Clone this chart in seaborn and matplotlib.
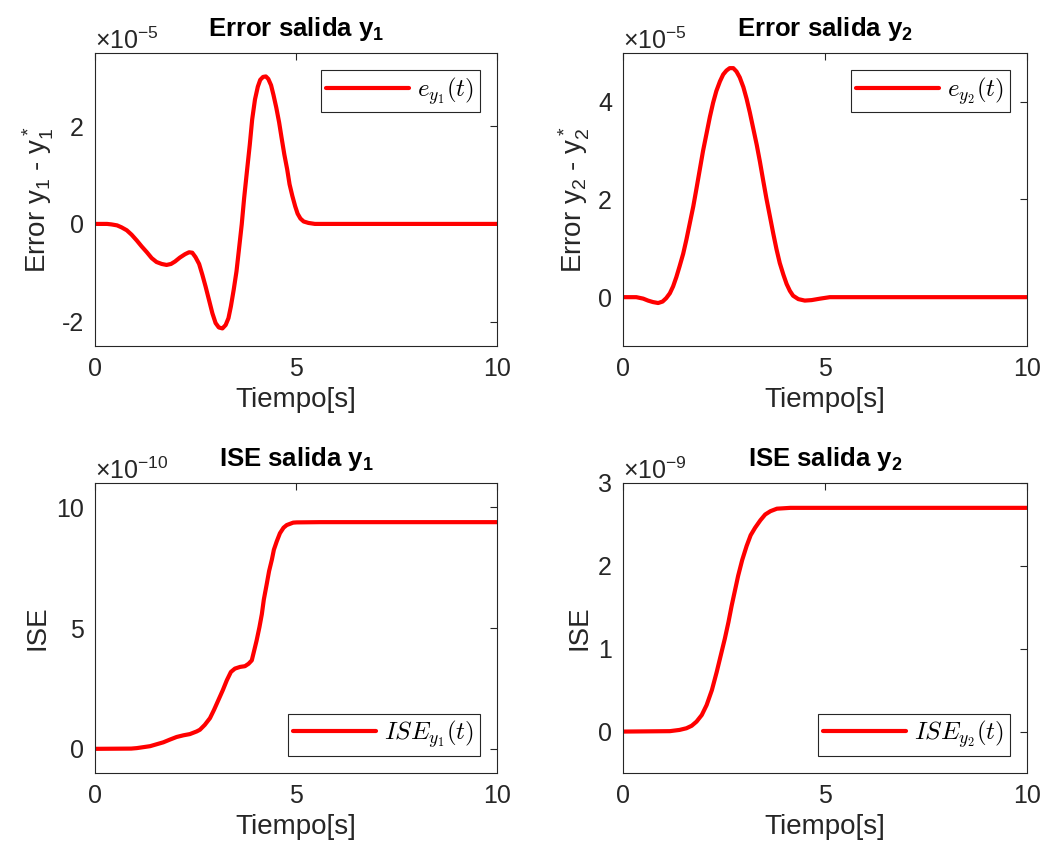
import numpy as np
import pandas as pd
import matplotlib
matplotlib.use("Agg")
import matplotlib.pyplot as plt
import seaborn as sns
from matplotlib.ticker import ScalarFormatter, FixedLocator
from matplotlib.font_manager import FontProperties

# ---- data -------------------------------------------------------------
# output error y1 (units of 1e-5)
t_e1 = [0, 0.30, 0.41, 0.55, 0.66, 0.79, 0.91, 1.04, 1.16, 1.29, 1.41, 1.53,
        1.66, 1.78, 1.89, 1.99, 2.11, 2.24, 2.34, 2.42, 2.50, 2.59, 2.67, 2.75,
        2.84, 2.92, 3.00, 3.08, 3.17, 3.25, 3.32, 3.38, 3.45, 3.52, 3.58, 3.65,
        3.71, 3.78, 3.85, 3.91, 3.98, 4.05, 4.11, 4.18, 4.25, 4.31, 4.38, 4.44,
        4.51, 4.58, 4.64, 4.71, 4.78, 4.84, 4.91, 4.98, 5.04, 5.11, 5.19, 5.31,
        5.47, 10]
e_y1 = [0, 0, -0.01, -0.03, -0.07, -0.13, -0.22, -0.34, -0.46, -0.58, -0.70,
        -0.78, -0.82, -0.84, -0.82, -0.77, -0.69, -0.62, -0.58, -0.59, -0.68,
        -0.82, -1.04, -1.28, -1.57, -1.83, -2.03, -2.12, -2.14, -2.07, -1.93,
        -1.69, -1.35, -0.97, -0.53, -0.01, 0.53, 1.08, 1.62, 2.14, 2.55, 2.81,
        2.95, 3.01, 3.02, 2.97, 2.84, 2.64, 2.38, 2.08, 1.77, 1.42, 1.12, 0.81,
        0.57, 0.36, 0.21, 0.11, 0.05, 0.02, 0, 0]

# output error y2 (units of 1e-5)
t_e2 = [0, 0.33, 0.50, 0.62, 0.74, 0.87, 0.98, 1.07, 1.16, 1.24, 1.32, 1.40,
        1.49, 1.57, 1.65, 1.74, 1.82, 1.90, 1.98, 2.07, 2.15, 2.23, 2.31, 2.40,
        2.48, 2.56, 2.64, 2.73, 2.81, 2.89, 2.98, 3.06, 3.14, 3.22, 3.31, 3.39,
        3.47, 3.55, 3.64, 3.72, 3.80, 3.88, 3.97, 4.05, 4.13, 4.21, 4.34, 4.50,
        4.67, 4.88, 5.12, 10]
e_y2 = [0, 0, -0.03, -0.07, -0.10, -0.12, -0.09, -0.02, 0.08, 0.22, 0.41,
        0.63, 0.89, 1.18, 1.50, 1.86, 2.23, 2.61, 2.99, 3.36, 3.69, 3.98, 4.22,
        4.42, 4.56, 4.64, 4.69, 4.69, 4.62, 4.50, 4.30, 4.06, 3.78, 3.47, 3.12,
        2.77, 2.39, 2.02, 1.64, 1.30, 0.98, 0.70, 0.46, 0.27, 0.13, 0.03, -0.04,
        -0.07, -0.06, -0.03, 0, 0]

# integral of squared error y1 (units of 1e-10)
t_ise1 = [0, 0.90, 1.04, 1.37, 1.70, 1.86, 2.03, 2.20, 2.36, 2.53, 2.61, 2.73,
          2.86, 2.96, 3.07, 3.18, 3.28, 3.38, 3.48, 3.61, 3.73, 3.82, 3.90, 3.95,
          4.02, 4.09, 4.15, 4.20, 4.27, 4.33, 4.40, 4.45, 4.52, 4.60, 4.69, 4.77,
          4.93, 5.02, 5.60, 10]
ise_y1 = [0, 0.01, 0.03, 0.11, 0.27, 0.38, 0.49, 0.56, 0.61, 0.72, 0.79, 0.99,
          1.27, 1.61, 2.02, 2.43, 2.84, 3.18, 3.32, 3.39, 3.42, 3.52, 3.66, 4.00,
          4.48, 5.03, 5.57, 6.18, 6.80, 7.35, 7.83, 8.24, 8.58, 8.92, 9.15, 9.26,
          9.36, 9.37, 9.38, 9.38]

# integral of squared error y2 (units of 1e-9)
t_ise2 = [0, 1.16, 1.40, 1.57, 1.70, 1.82, 1.95, 2.07, 2.20, 2.32, 2.42, 2.52,
          2.61, 2.69, 2.77, 2.85, 2.95, 3.06, 3.16, 3.27, 3.40, 3.52, 3.65, 3.81,
          4.14, 10]
ise_y2 = [0, 0.005, 0.02, 0.04, 0.07, 0.12, 0.20, 0.32, 0.50, 0.72, 0.92, 1.12,
          1.32, 1.52, 1.70, 1.88, 2.07, 2.24, 2.37, 2.46, 2.55, 2.62, 2.66, 2.69,
          2.70, 2.70]

x_ticks = [0, 5, 10]


class FixedSci(ScalarFormatter):
    """Fixed power-of-ten offset, plain ASCII tick labels."""

    def __init__(self, order):
        super().__init__(useMathText=True)
        self.set_powerlimits((order, order))

    def __call__(self, x, pos=None):
        s = super().__call__(x, pos)
        return (s.replace(r"$\mathdefault{", "").replace("}$", "")
                 .replace("\u2212", "-"))


# ---- style ------------------------------------------------------------
sns.set_style("white")
plt.rcParams.update({
    "font.family": ["Liberation Sans", "DejaVu Sans"],
    "mathtext.fontset": "custom",
    "mathtext.rm": "Liberation Sans",
    "mathtext.it": "Liberation Sans:italic",
    "mathtext.bf": "Liberation Sans:bold",
    "axes.unicode_minus": False,
    "axes.edgecolor": "0.15",
    "axes.linewidth": 0.8,
    "xtick.color": "0.15",
    "ytick.color": "0.15",
    "text.color": "black",
    "axes.labelcolor": "0.15",
})

TICK_FS = 18
LABEL_FS = 20
TITLE_FS = 18.5
LEG_FS = 18

fig = plt.figure(figsize=(10.42, 8.51), dpi=100)

W = 1042.0
H = 851.0
boxes = [
    (95, 53, 497, 346),
    (623, 53, 1027, 346),
    (95, 483, 497, 773),
    (623, 483, 1027, 773),
]

panels = [
    dict(t=t_e1, v=e_y1, order=-5, ylim=(-2.5, 3.5), yticks=[-2, 0, 2],
         title=r"Error salida $\mathbf{y_1}$",
         ylabel=r"Error $\mathregular{y_1}$ - $\mathregular{y_1^*}$",
         leg=r"$e_{y_1}(t)$", loc="upper right"),
    dict(t=t_e2, v=e_y2, order=-5, ylim=(-1, 5), yticks=[0, 2, 4],
         title=r"Error salida $\mathbf{y_2}$",
         ylabel=r"Error $\mathregular{y_2}$ - $\mathregular{y_2^*}$",
         leg=r"$e_{y_2}(t)$", loc="upper right"),
    dict(t=t_ise1, v=ise_y1, order=-10, ylim=(-1, 11), yticks=[0, 5, 10],
         title=r"ISE salida $\mathbf{y_1}$", ylabel="ISE",
         leg=r"$ISE_{y_1}(t)$", loc="lower right"),
    dict(t=t_ise2, v=ise_y2, order=-9, ylim=(-0.5, 3), yticks=[0, 1, 2, 3],
         title=r"ISE salida $\mathbf{y_2}$", ylabel="ISE",
         leg=r"$ISE_{y_2}(t)$", loc="lower right"),
]

for (x0, y0, x1, y1), p in zip(boxes, panels):
    ax = fig.add_axes([x0 / W, 1 - y1 / H, (x1 - x0) / W, (y1 - y0) / H])
    scale = 10.0 ** p["order"]
    df = pd.DataFrame({"t": p["t"], "v": np.asarray(p["v"]) * scale})
    sns.lineplot(data=df, x="t", y="v", ax=ax, color="#ff0000", linewidth=3,
                 sort=False, estimator=None, label=p["leg"])
    ax.set_xlim(0, 10)
    ax.set_ylim(p["ylim"][0] * scale, p["ylim"][1] * scale)
    ax.xaxis.set_major_locator(FixedLocator(x_ticks))
    ax.yaxis.set_major_locator(FixedLocator([v * scale for v in p["yticks"]]))
    ax.yaxis.set_major_formatter(FixedSci(p["order"]))
    ax.yaxis.get_offset_text().set_fontsize(TICK_FS)
    ax.yaxis.get_offset_text().set_color("0.15")
    ax.tick_params(direction="in", length=5, width=0.8, labelsize=TICK_FS,
                   top=True, right=True, pad=8)
    for s in ax.spines.values():
        s.set_visible(True)
        s.set_color("0.15")
        s.set_linewidth(0.8)
    ax.set_xlabel("Tiempo[s]", fontsize=LABEL_FS)
    ax.set_ylabel(p["ylabel"], fontsize=LABEL_FS)
    ax.set_title(p["title"], fontsize=TITLE_FS, fontweight="bold", pad=12)
    leg = ax.legend(loc=p["loc"], frameon=True, fancybox=False, framealpha=1,
                    edgecolor="0.15", handlelength=3.3, handletextpad=0.35,
                    borderpad=0.2, borderaxespad=0.7,
                    prop=FontProperties(size=LEG_FS, math_fontfamily="cm"))
    leg.get_frame().set_linewidth(0.8)

fig.savefig("out.png", dpi=100)
